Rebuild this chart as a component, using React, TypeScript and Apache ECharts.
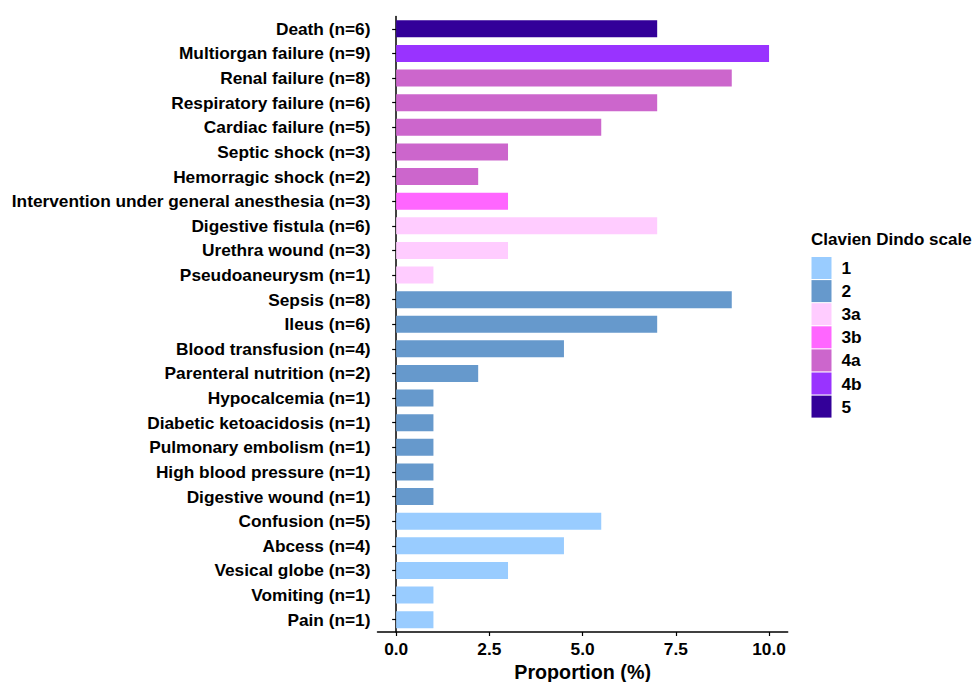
import React, { useEffect, useRef } from "react";
import * as echarts from "echarts";

const categories = [
  "Death (n=6)",
  "Multiorgan failure (n=9)",
  "Renal failure (n=8)",
  "Respiratory failure (n=6)",
  "Cardiac failure (n=5)",
  "Septic shock (n=3)",
  "Hemorragic shock (n=2)",
  "Intervention under general anesthesia (n=3)",
  "Digestive fistula (n=6)",
  "Urethra wound (n=3)",
  "Pseudoaneurysm (n=1)",
  "Sepsis (n=8)",
  "Ileus (n=6)",
  "Blood transfusion (n=4)",
  "Parenteral nutrition (n=2)",
  "Hypocalcemia (n=1)",
  "Diabetic ketoacidosis (n=1)",
  "Pulmonary embolism (n=1)",
  "High blood pressure (n=1)",
  "Digestive wound (n=1)",
  "Confusion (n=5)",
  "Abcess (n=4)",
  "Vesical globe (n=3)",
  "Vomiting (n=1)",
  "Pain (n=1)",
];
const values = [7, 10, 9, 7, 5.5, 3, 2.2, 3, 7, 3, 1, 9, 7, 4.5, 2.2, 1, 1, 1, 1, 1, 5.5, 4.5, 3, 1, 1];
const grades = ["5", "4b", "4a", "4a", "4a", "4a", "4a", "3b", "3a", "3a", "3a", "2", "2", "2", "2", "2", "2", "2", "2", "2", "1", "1", "1", "1", "1"];
const gradeLevels = ["1", "2", "3a", "3b", "4a", "4b", "5"];
const gradeColors = ["#99CCFF", "#6699CC", "#FFCCFF", "#FF66FF", "#CC66CC", "#9933FF", "#330099"];
const xTicks = [0, 2.5, 5, 7.5, 10];

const FONT = "'Liberation Sans', Arial, sans-serif";
const FS = 17.3;

export default function App() {
  const ref = useRef<HTMLDivElement>(null);
  useEffect(() => {
    if (!ref.current) return;
    const chart = echarts.init(ref.current, null, { renderer: "svg" });
    const series = gradeLevels.map((g, gi) => ({
      name: g,
      type: "bar",
      stack: "all",
      barWidth: 17,
      itemStyle: { color: gradeColors[gi] },
      data: categories.map((_, i) => (grades[i] === g ? values[i] : "-")),
    }));
    chart.setOption({
      animation: false,
      backgroundColor: "#ffffff",
      textStyle: { fontFamily: FONT },
      title: {
        text: "Clavien Dindo scale",
        left: 811,
        top: 231,
        padding: 0,
        textStyle: { fontFamily: FONT, fontWeight: "bold", fontSize: 17, color: "#000" },
      },
      legend: {
        orient: "vertical",
        left: 811.5,
        top: 257,
        padding: 0,
        itemWidth: 20,
        itemHeight: 22,
        itemGap: 1.1,
        icon: "rect",
        data: gradeLevels,
        textStyle: { fontFamily: FONT, fontWeight: "bold", fontSize: FS, color: "#000", padding: [0, 0, 0, 5] },
      },
      grid: {
        left: 377.5,
        right: 185.3,
        top: 16.5,
        bottom: 50,
        containLabel: false,
        outerBoundsMode: "none",
      },
      xAxis: {
        type: "value",
        min: -0.5,
        max: 10.5,
        splitLine: { show: false },
        axisLine: { show: true, lineStyle: { color: "#000", width: 1.5 } },
        axisTick: { show: true, length: 4, lineStyle: { color: "#000", width: 1.2 }, customValues: xTicks },
        axisLabel: {
          customValues: xTicks,
          margin: 8.5,
          fontFamily: FONT,
          fontWeight: "bold",
          fontSize: FS,
          color: "#000",
          formatter: (v: number) => v.toFixed(1),
        },
        name: "Proportion (%)",
        nameLocation: "middle",
        nameGap: 27.5,
        nameTextStyle: { fontFamily: FONT, fontWeight: "bold", fontSize: 19.7, color: "#000" },
      },
      yAxis: {
        type: "category",
        data: categories,
        inverse: true,
        axisLine: { show: true, lineStyle: { color: "#000", width: 1.5 } },
        axisTick: { show: true, alignWithLabel: true, length: 4, lineStyle: { color: "#000", width: 1.2 } },
        axisLabel: {
          interval: 0,
          margin: 7,
          fontFamily: FONT,
          fontWeight: "bold",
          fontSize: FS,
          color: "#000",
        },
        splitLine: { show: false },
      },
      series,
    });
    return () => chart.dispose();
  }, []);
  return <div ref={ref} style={{ position: "fixed", left: 0, top: 0, width: 973, height: 682 }} />;
}
